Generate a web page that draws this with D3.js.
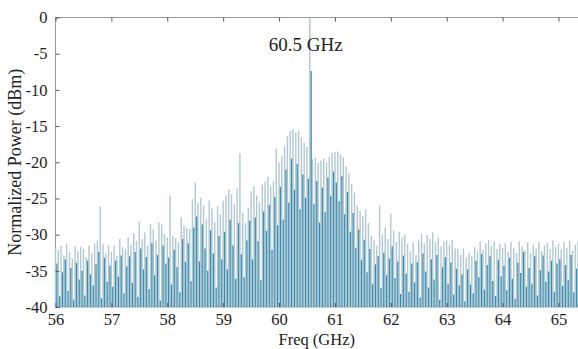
<!DOCTYPE html>
<html>
<head>
<meta charset="utf-8">
<script src="https://cdn.jsdelivr.net/npm/d3@7"></script>
<style>
  html, body { margin: 0; padding: 0; background: #fff; }
  svg { display: block; }
</style>
</head>
<body>
<div id="chart"></div>
<script>
// pale trace, one value every 0.05 GHz starting at 56.00
const paleStart = 56.0;
const paleValues = [
  -31.8, -32.1, -31.6, -32.9, -31.3, -32.4, -33.3, -31.6, -32.3, -31.7, -32.0, -33.1, -31.5, -32.6, -31.2, -30.8, -26.1, -31.3, -32.6, -31.5,
  -32.4, -31.5, -32.9, -30.6, -31.7, -32.0, -30.4, -31.4, -29.8, -30.9, -28.2, -30.6, -29.7, -31.5, -28.5, -29.3, -30.8, -28.3, -28.6, -29.9,
  -30.4, -24.6, -30.2, -30.5, -31.0, -27.6, -28.8, -29.1, -29.2, -25.1, -22.8, -25.6, -24.9, -26.0, -27.9, -25.3, -26.4, -28.3, -26.1, -27.2,
  -25.3, -24.6, -23.8, -24.4, -25.8, -23.6, -18.8, -27.0, -28.4, -26.3, -24.0, -23.3, -24.6, -25.5, -23.1, -22.7, -22.0, -23.4, -22.6, -18.1,
  -20.0, -19.2, -17.8, -16.4, -15.6, -15.4, -15.9, -15.7, -16.6, -17.3, -17.9, 0.0, -19.6, -19.4, -20.1, -19.8, -19.5, -20.0, -19.3, -18.7,
  -18.6, -18.5, -18.9, -19.3, -20.6, -21.5, -23.0, -24.2, -26.0, -26.7, -27.4, -26.5, -28.4, -30.2, -30.8, -31.5, -26.0, -30.1, -29.0, -30.6,
  -27.1, -29.4, -31.0, -29.6, -30.4, -30.0, -31.3, -32.4, -31.1, -32.8, -30.8, -29.9, -31.2, -30.1, -30.6, -29.7, -31.0, -30.4, -31.6, -30.9,
  -30.8, -31.4, -30.7, -31.9, -32.0, -32.8, -31.9, -33.2, -32.5, -33.0, -31.7, -32.3, -30.9, -32.1, -31.2, -30.7, -31.6, -30.9, -32.0, -31.3,
  -31.8, -31.2, -32.4, -31.0, -31.9, -32.5, -30.9, -31.6, -32.2, -31.1, -32.6, -31.4, -31.9, -31.0, -32.3, -31.5, -31.2, -32.0, -30.8, -31.7,
  -31.3, -32.1, -31.0, -31.8, -30.8, -32.2, -31.4, -31.0
];

// darker trace, interleaved, starting at 56.025
const darkStart = 56.025;
const darkValues = [
  -34.0, -38.5, -35.2, -33.4, -37.8, -34.6, -39.0, -33.9, -36.2, -35.0, -38.4, -33.6, -35.5, -37.0, -34.1, -32.4, -38.8, -33.2, -36.5, -34.3,
  -37.2, -33.6, -35.8, -32.9, -38.1, -34.4, -33.0, -36.7, -32.4, -38.6, -31.9, -34.8, -33.1, -37.5, -31.2, -35.6, -32.8, -39.1, -31.5, -34.0,
  -33.2, -36.9, -32.1, -34.5, -38.0, -30.6, -33.8, -31.2, -36.4, -29.0, -27.5, -33.7, -28.6, -31.9, -35.0, -29.4, -32.6, -37.3, -30.2, -33.4,
  -29.6, -34.8, -27.9, -31.5, -36.1, -28.4, -32.7, -35.9, -30.8, -28.1, -33.4, -27.6, -30.9, -36.3, -26.8, -29.5, -25.9, -32.1, -24.8, -28.7,
  -23.4, -27.9, -21.0, -25.6, -19.5, -23.8, -20.2, -26.5, -21.7, -24.9, -22.3, -7.4, -25.8, -22.6, -28.3, -23.5, -26.9, -22.1, -24.7, -21.3,
  -22.8, -25.4, -21.9, -27.2, -24.1, -29.6, -27.0, -31.8, -29.3, -33.5, -30.7, -35.2, -32.0, -36.8, -34.1, -33.0, -37.4, -32.5, -35.6, -33.3,
  -31.6, -36.0, -33.7, -38.2, -32.9, -35.4, -37.9, -34.0, -36.6, -33.8, -38.7, -32.6, -35.1, -37.3, -33.4, -36.2, -32.8, -39.0, -34.5, -33.1,
  -36.8, -33.9, -38.3, -34.7, -37.0, -35.5, -39.2, -34.8, -36.9, -38.1, -33.6, -35.9, -32.7, -37.6, -34.2, -33.0, -36.4, -38.5, -33.5, -35.8,
  -34.3, -37.7, -33.2, -36.1, -38.9, -33.9, -35.3, -32.4, -37.2, -34.6, -36.8, -33.0, -38.4, -34.9, -32.9, -36.5, -35.1, -33.6, -37.9, -34.0,
  -33.4, -37.1, -34.2, -36.3, -32.8, -38.0, -34.7
];
const step = 0.05;

const xTicks = [56, 57, 58, 59, 60, 61, 62, 63, 64, 65];
const yTicks = [0, -5, -10, -15, -20, -25, -30, -35, -40];
const peakLabel = '60.5 GHz';
const xTitle = 'Freq (GHz)';
const yTitle = 'Normalized Power (dBm)';

const width = 578, height = 349;
const margin = { top: 17.5, right: 0, bottom: 42, left: 55.5 };
const font = '"Liberation Serif", "Times New Roman", serif';

const svg = d3.select('#chart')
  .append('svg')
  .attr('width', width)
  .attr('height', height);

const x = d3.scaleLinear()
  .domain([56, 65.35])
  .range([margin.left, width - margin.right]);

const y = d3.scaleLinear()
  .domain([-40, 0])
  .range([height - margin.bottom, margin.top]);

const pale = paleValues.map((v, i) => ({ f: paleStart + i * step, v }));
const dark = darkValues.map((v, i) => ({ f: darkStart + i * step, v }));

// box
svg.append('path')
  .attr('d', `M${x.range()[1]},${y(0)}H${x.range()[0]}V${y(-40)}H${x.range()[1]}`)
  .attr('fill', 'none')
  .attr('stroke', '#9a9a9a')
  .attr('stroke-width', 1);

// stems
svg.append('g')
  .attr('stroke', '#b0c8d0')
  .attr('stroke-width', 1.4)
  .selectAll('line')
  .data(pale)
  .join('line')
  .attr('x1', d => x(d.f))
  .attr('x2', d => x(d.f))
  .attr('y1', y(-40))
  .attr('y2', d => y(d.v));

svg.append('g')
  .attr('stroke', '#3b8bb0')
  .attr('stroke-width', 1.3)
  .selectAll('line')
  .data(dark)
  .join('line')
  .attr('x1', d => x(d.f))
  .attr('x2', d => x(d.f))
  .attr('y1', y(-40))
  .attr('y2', d => y(d.v));

// axes
const styleAxis = g => {
  g.select('.domain').remove();
  g.selectAll('.tick line').attr('stroke', '#555');
  g.selectAll('.tick text')
    .attr('fill', '#222')
    .attr('font-family', font)
    .attr('font-size', 16.5);
};

svg.append('g')
  .attr('transform', `translate(0,${y(-40)})`)
  .call(d3.axisBottom(x).tickValues(xTicks).tickSizeInner(-4).tickSizeOuter(0).tickPadding(6))
  .call(styleAxis);

svg.append('g')
  .attr('transform', `translate(0,${y(0)})`)
  .call(d3.axisTop(x).tickValues(xTicks).tickSizeInner(-4).tickSizeOuter(0).tickFormat(''))
  .call(styleAxis);

svg.append('g')
  .attr('transform', `translate(${margin.left},0)`)
  .call(d3.axisLeft(y).tickValues(yTicks).tickSizeInner(-4).tickSizeOuter(0).tickPadding(8)
    .tickFormat(d => String(d)))
  .call(styleAxis);

// annotation
svg.append('text')
  .attr('x', x(60.55) - 4)
  .attr('y', 51)
  .attr('text-anchor', 'middle')
  .attr('font-family', font)
  .attr('font-size', 19)
  .attr('fill', '#222')
  .text(peakLabel);

svg.append('text')
  .attr('x', (x.range()[0] + x.range()[1]) / 2)
  .attr('y', 344.5)
  .attr('text-anchor', 'middle')
  .attr('font-family', font)
  .attr('font-size', 16.5)
  .attr('fill', '#222')
  .text(xTitle);

svg.append('text')
  .attr('transform', `translate(21,${(y(0) + y(-40)) / 2}) rotate(-90)`)
  .attr('text-anchor', 'middle')
  .attr('font-family', font)
  .attr('font-size', 18)
  .attr('fill', '#222')
  .text(yTitle);
</script>
</body>
</html>
